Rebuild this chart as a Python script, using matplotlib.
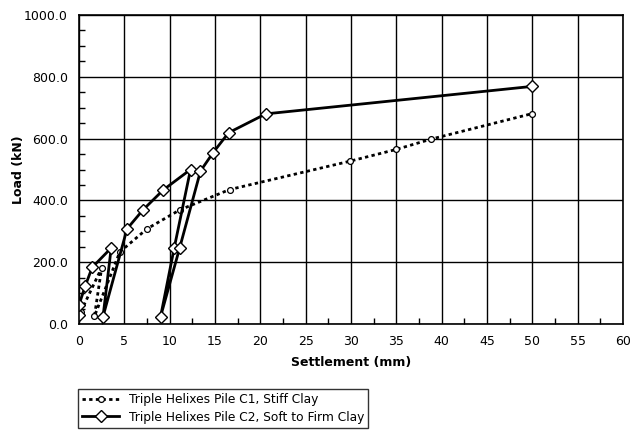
import matplotlib
matplotlib.use("Agg")
import matplotlib.pyplot as plt
from matplotlib.ticker import MultipleLocator, FormatStrFormatter

# C1 - stiff clay (circles, dotted)
c1_settle = [0.2, 2.5, 1.7, 4.5, 7.5, 11.1, 16.6, 29.9, 35.0, 38.8, 50.0]
c1_load = [40, 182, 25, 233, 308, 369, 435, 527, 565, 598, 681]

# C2 - soft to firm clay (diamonds, solid)
c2_settle = [0.0, 0.0, 0.7, 1.45, 3.55, 2.65, 5.3, 7.05, 9.3, 12.3, 10.5, 9.0, 11.1, 13.4, 14.8, 16.5, 20.6, 50.0]
c2_load = [28, 62, 124, 183, 246, 24, 308, 369, 434, 500, 246, 24, 246, 495, 555, 619, 680, 769]

labels = ["Triple Helixes Pile C1, Stiff Clay", "Triple Helixes Pile C2, Soft to Firm Clay"]

plt.rcParams['font.family'] = ['DejaVu Sans']
fig = plt.figure(figsize=(6.39, 4.33), dpi=100)
ax = fig.add_axes([79/639, 1-324/433, (623-79)/639, (324-15)/433])

ax.plot(c1_settle, c1_load, color='black', lw=2, linestyle=(0, (1.2, 1.2)),
        marker='o', ms=4.2, mfc='white', mec='black', mew=0.9, label=labels[0])
ax.plot(c2_settle, c2_load, color='black', lw=2, linestyle='-',
        marker='D', ms=6, mfc='white', mec='black', mew=1, label=labels[1])

ax.set_xlim(0, 60)
ax.set_ylim(0, 1000)
ax.xaxis.set_major_locator(MultipleLocator(5))
ax.xaxis.set_minor_locator(MultipleLocator(2.5))
ax.yaxis.set_major_locator(MultipleLocator(200))
ax.yaxis.set_minor_locator(MultipleLocator(50))
ax.yaxis.set_major_formatter(FormatStrFormatter('%.1f'))
ax.grid(True, which='major', color='black', lw=1)
ax.tick_params(which='major', length=0, labelsize=9, pad=8)
ax.tick_params(which='minor', direction='in', length=4, width=1)
for s in ax.spines.values():
    s.set_linewidth(1.2)

ax.set_xlabel("Settlement (mm)", fontsize=9, fontweight='bold', labelpad=6)
ax.set_ylabel("Load (kN)", fontsize=9, fontweight='bold', labelpad=-1)

leg = fig.legend(loc='upper left', bbox_to_anchor=(78/639, 1-389/433),
                 borderaxespad=0, fontsize=8.8, frameon=True, fancybox=False,
                 edgecolor='black', handlelength=3.0, handletextpad=0.8,
                 borderpad=0.35, labelspacing=0.35)
leg.get_frame().set_linewidth(1)

fig.savefig("out.png", dpi=100)
